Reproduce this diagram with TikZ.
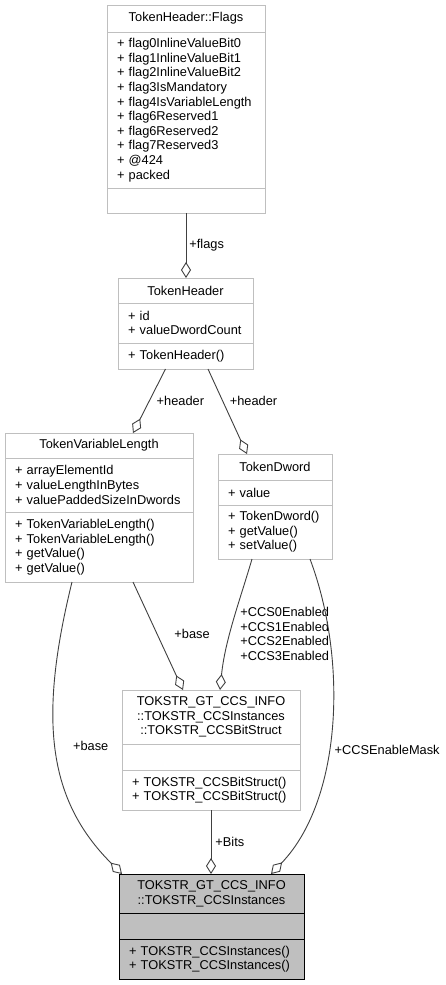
\documentclass[tikz,border=0pt]{standalone}
\usepackage{fontspec}
\setmainfont{Liberation Sans}
\usetikzlibrary{arrows.meta, positioning, calc}
\definecolor{boxgrey}{RGB}{191, 191, 191}
\definecolor{linegrey}{RGB}{64, 64, 64}
\definecolor{maingrey}{RGB}{191, 191, 191}

\begin{document}
\begin{tikzpicture}[x=1pt, y=-1pt,
    member/.style={draw=boxgrey, fill=white, line width=1pt, outer sep=0pt, inner xsep=10pt, inner ysep=0pt, align=left, font=\fontsize{12.8}{14.6}\selectfont},
    cname/.style={member, align=center},
    focus/.style={draw=black, fill=maingrey},
    link/.style={draw=linegrey, line width=0.9pt, -{Diamond[open, length=16pt, width=10pt]}},
    role/.style={font=\fontsize{12.8}{14.6}\selectfont, inner sep=0pt, align=center}]

  \fill[white] (0,0) rectangle (446,985);

  % TokenHeader::Flags
  \node[cname, text width=138pt, minimum height=27pt, anchor=north] (flags) at (186,5) {TokenHeader::Flags};
  \node[member, text width=138pt, minimum height=156pt, below=0pt of flags] (flagsattr) {+ flag0InlineValueBit0\\+ flag1InlineValueBit1\\+ flag2InlineValueBit2\\+ flag3IsMandatory\\+ flag4IsVariableLength\\+ flag6Reserved1\\+ flag6Reserved2\\+ flag7Reserved3\\+ @424\\+ packed};
  \node[member, text width=138pt, minimum height=25pt, below=0pt of flagsattr] (flagsops) {};

  % TokenHeader
  \node[cname, text width=115pt, minimum height=25pt, anchor=north] (header) at (185.5,278) {TokenHeader};
  \node[member, text width=115pt, minimum height=40pt, below=0pt of header] (headerattr) {+ id\\+ valueDwordCount};
  \node[member, text width=115pt, minimum height=26pt, below=0pt of headerattr] (headerops) {+ TokenHeader()};

  % TokenVariableLength
  \node[cname, text width=168pt, minimum height=25pt, anchor=north] (tvl) at (99,433) {TokenVariableLength};
  \node[member, text width=168pt, minimum height=54pt, below=0pt of tvl] (tvlattr) {+ arrayElementId\\+ valueLengthInBytes\\+ valuePaddedSizeInDwords};
  \node[member, text width=168pt, minimum height=70pt, below=0pt of tvlattr] (tvlops) {+ TokenVariableLength()\\+ TokenVariableLength()\\+ getValue()\\+ getValue()};

  % TokenDword
  \node[cname, text width=94pt, minimum height=26pt, anchor=north] (dword) at (275,454) {TokenDword};
  \node[member, text width=94pt, minimum height=25pt, below=0pt of dword] (dwordattr) {+ value};
  \node[member, text width=94pt, minimum height=54pt, below=0pt of dwordattr] (dwordops) {+ TokenDword()\\+ getValue()\\+ setValue()};

  % TOKSTR_CCSBitStruct
  \node[cname, text width=158pt, minimum height=54pt, anchor=north] (bits) at (211,690) {TOKSTR\_GT\_CCS\_INFO\\::TOKSTR\_CCSInstances\\ ::TOKSTR\_CCSBitStruct};
  \node[member, text width=158pt, minimum height=26pt, below=0pt of bits] (bitsattr) {};
  \node[member, text width=158pt, minimum height=40pt, below=0pt of bitsattr] (bitsops) {+ TOKSTR\_CCSBitStruct()\\+ TOKSTR\_CCSBitStruct()};

  % TOKSTR_CCSInstances
  \node[cname, focus, text width=165pt, minimum height=39pt, anchor=north] (inst) at (211.5,874) {TOKSTR\_GT\_CCS\_INFO\\ ::TOKSTR\_CCSInstances};
  \node[member, focus, text width=165pt, minimum height=26pt, below=0pt of inst] (instattr) {};
  \node[member, focus, text width=165pt, minimum height=40pt, below=0pt of instattr] (instops) {+ TOKSTR\_CCSInstances()\\+ TOKSTR\_CCSInstances()};

  % connectors
  \draw[link] (flagsops.south) -- (flagsops.south |- header.north)
    node[role, right=3pt, midway] {+flags};
  \draw[link] ([xshift=-20pt]headerops.south) -- ([xshift=34pt]tvl.north)
    node[role, right=7pt, midway] {+header};
  \draw[link] ([xshift=22.5pt]headerops.south) -- ([xshift=-28pt]dword.north)
    node[role, right=7pt, pos=0.37] {+header};
  \draw[link] ([xshift=34pt]tvlops.south) -- ([xshift=-28pt]bits.north)
    node[role, right=17pt, pos=0.48] {+base};
  \draw[link] ([xshift=-23pt]dwordops.south) .. controls (240,600) and (225,640) .. ([xshift=9pt]bits.north)
    node[role, right=10pt, pos=0.6] {+CCS0Enabled\\+CCS1Enabled\\+CCS2Enabled\\+CCS3Enabled};
  \draw[link] ([xshift=-27pt]tvlops.south) .. controls (38,720) and (48,800) .. ([xshift=3pt]inst.north west)
    node[role, right=17pt, pos=0.48] {+base};
  \draw[link] ([xshift=35pt]dwordops.south) .. controls (348,660) and (342,800) .. ([xshift=-33pt]inst.north east)
    node[role, right=6pt, pos=0.57] {+CCSEnableMask};
  \draw[link] (bitsops.south) -- (bitsops.south |- inst.north)
    node[role, right=4pt, midway] {+Bits};
\end{tikzpicture}
\end{document}
